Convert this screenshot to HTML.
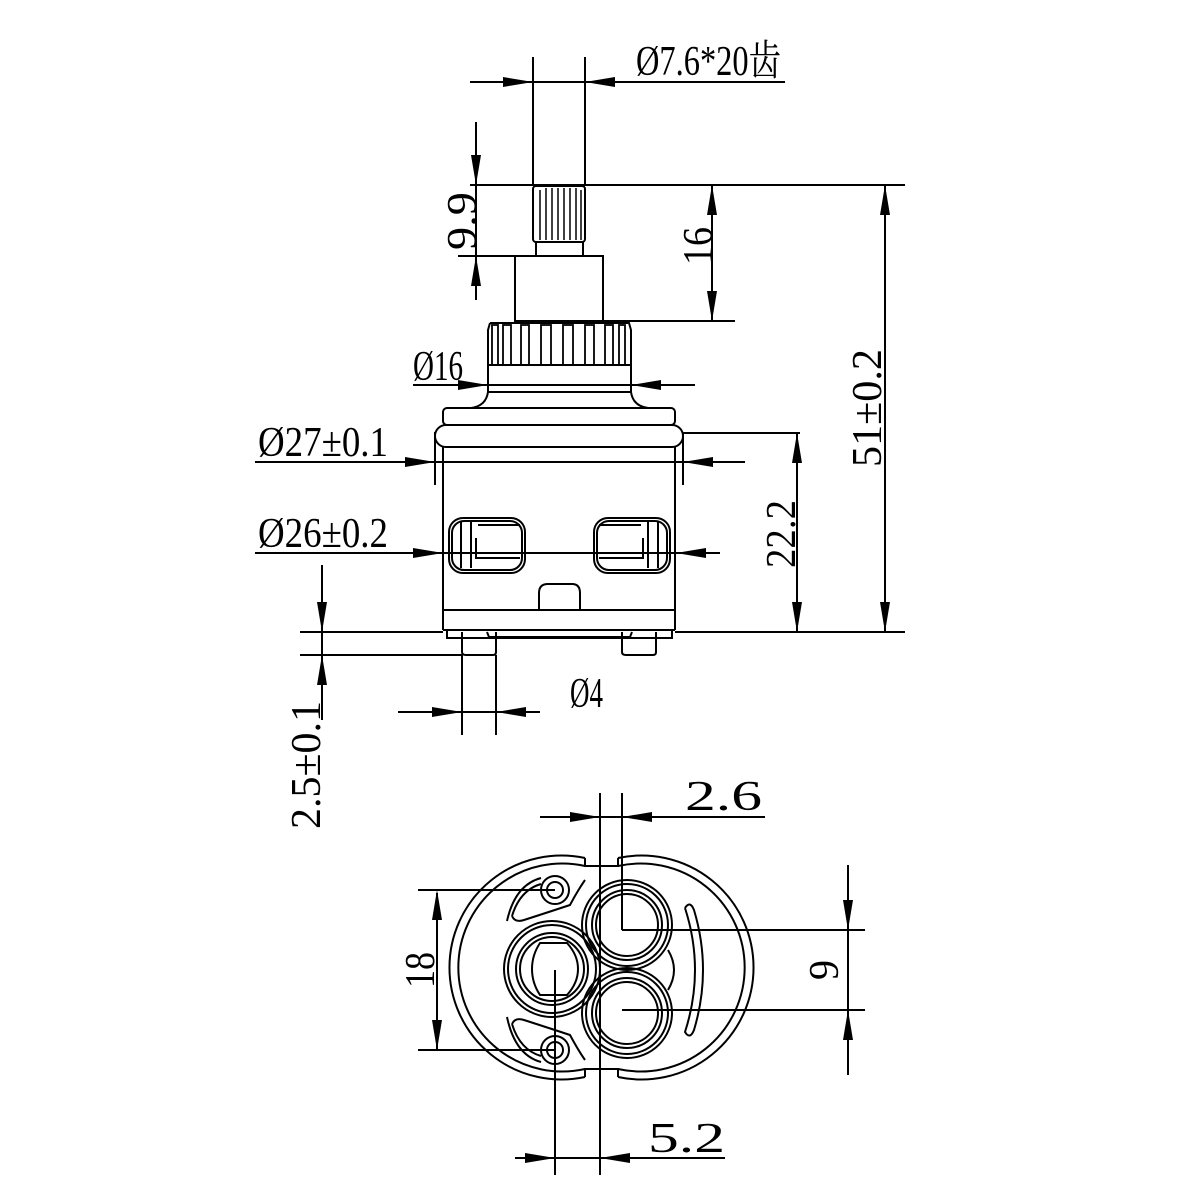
<!DOCTYPE html>
<html><head><meta charset="utf-8"><style>
html,body{margin:0;padding:0;background:#fff;}
svg{display:block;}
text{font-family:"Liberation Serif","Noto Serif CJK SC",serif;font-size:42px;fill:#000;}
</style></head><body>
<svg id="s" width="1200" height="1200" viewBox="0 0 1200 1200" xmlns="http://www.w3.org/2000/svg">
<g id="g" stroke="#000" stroke-width="2" fill="none">
<!-- stem -->
<rect x="533" y="186" width="52" height="56" rx="3"/>
<g stroke-width="1.5">
<line x1="540" y1="190" x2="540" y2="240"/><line x1="546" y1="188" x2="546" y2="240"/><line x1="552" y1="188" x2="552" y2="240"/><line x1="558" y1="188" x2="558" y2="240"/><line x1="564" y1="188" x2="564" y2="240"/><line x1="570" y1="188" x2="570" y2="240"/><line x1="576" y1="188" x2="576" y2="240"/><line x1="581" y1="190" x2="581" y2="240"/>
</g>
<rect x="536" y="242" width="47" height="14"/>
<rect x="515" y="256" width="88" height="65"/>
<!-- gear collar -->
<path d="M490 323 L629 323 L631 330 L631 392 Q633 406 648 408 M488 392 L488 330 L490 323 M488 392 Q486 406 471 408"/>
<line x1="488" y1="365" x2="631" y2="365"/>
<line x1="488" y1="392" x2="631" y2="392"/>
<g stroke-width="1.8">
<rect x="492" y="325" width="6" height="40"/><rect x="503" y="325" width="8" height="40"/><rect x="521" y="325" width="8" height="40"/><rect x="541" y="325" width="10" height="40"/><rect x="563" y="325" width="10" height="40"/><rect x="585" y="325" width="9" height="40"/><rect x="605" y="325" width="8" height="40"/><rect x="619" y="325" width="6" height="40"/>
</g>
<!-- body -->
<rect x="443" y="408" width="232" height="17" rx="4"/>
<rect x="435" y="425" width="248" height="22" rx="11"/>
<line x1="443" y1="447" x2="443" y2="630"/><line x1="675" y1="447" x2="675" y2="630"/>
<line x1="443" y1="610" x2="675" y2="610"/>
<path d="M447 630 L447 638 L672 638 L672 630"/>
<line x1="443" y1="630" x2="675" y2="630"/>
<path d="M487 632 L489 637 L630 637 L632 632"/>
<path d="M462 632 L462 652 Q462 655 466 655 L493 655 Q496 655 496 652 L496 632"/>
<path d="M622 632 L622 652 Q622 655 626 655 L653 655 Q656 655 656 652 L656 632"/>
<!-- windows -->
<rect x="449" y="518" width="76" height="55" rx="14"/>
<rect x="452" y="521" width="70" height="49" rx="12"/>
<path d="M461 522 L461 568 M471 522 L471 568 M476 538 L476 558 L520 558 M478 525 L520 525"/>
<rect x="594" y="518" width="76" height="55" rx="14"/>
<rect x="597" y="521" width="70" height="49" rx="12"/>
<path d="M658 522 L658 568 M648 522 L648 568 M643 538 L643 558 L599 558 M641 525 L599 525"/>
<path d="M539 610 L539 593 Q539 584 548 584 L572 584 Q580 584 580 593 L580 610"/>
<!-- dimension lines -->
<g stroke-width="2">
<line x1="470" y1="82" x2="785" y2="82"/>
<line x1="533" y1="57" x2="533" y2="186"/><line x1="585" y1="57" x2="585" y2="186"/>
<line x1="476" y1="122" x2="476" y2="300"/>
<line x1="470" y1="185" x2="905" y2="185"/>
<line x1="458" y1="256" x2="515" y2="256"/>
<line x1="712" y1="185" x2="712" y2="321"/>
<line x1="603" y1="321" x2="735" y2="321"/>
<line x1="885" y1="185" x2="885" y2="632"/>
<line x1="675" y1="632" x2="905" y2="632"/>
<line x1="300" y1="632" x2="443" y2="632"/>
<line x1="413" y1="385" x2="695" y2="385"/>
<line x1="255" y1="462" x2="745" y2="462"/>
<line x1="435" y1="432" x2="435" y2="485"/><line x1="683" y1="432" x2="683" y2="485"/>
<line x1="255" y1="553" x2="720" y2="553"/>
<line x1="797" y1="433" x2="797" y2="632"/>
<line x1="683" y1="433" x2="800" y2="433"/>
<line x1="322" y1="565" x2="322" y2="720"/>
<line x1="300" y1="655" x2="462" y2="655"/>
<line x1="398" y1="712" x2="540" y2="712"/>
<line x1="462" y1="655" x2="462" y2="735"/><line x1="496" y1="655" x2="496" y2="735"/>
<line x1="600" y1="793" x2="600" y2="1175"/>
<line x1="622" y1="793" x2="622" y2="930"/>
<line x1="540" y1="817" x2="765" y2="817"/>
<line x1="622" y1="930" x2="865" y2="930"/>
<line x1="622" y1="1010" x2="865" y2="1010"/>
<line x1="848" y1="865" x2="848" y2="1075"/>
<line x1="418" y1="890" x2="555" y2="890"/>
<line x1="418" y1="1050" x2="555" y2="1050"/>
<line x1="437" y1="893" x2="437" y2="1050"/>
<line x1="555" y1="970" x2="555" y2="1175"/>
<line x1="515" y1="1158" x2="725" y2="1158"/>
</g>
<!-- bottom view -->
<path d="M585 858 A112 112 0 1 0 585 1077"/>
<path d="M618 858 A112 112 0 1 1 618 1077"/>
<path d="M585 866 A104 104 0 1 0 585 1069"/>
<path d="M618 866 A104 104 0 1 1 618 1069"/>
<path d="M585 858 L585 866 L618 866 L618 858 M585 1077 L585 1069 L618 1069 L618 1077"/>
<circle cx="627" cy="925" r="45"/><circle cx="627" cy="925" r="41"/><circle cx="627" cy="925" r="35"/><circle cx="627" cy="925" r="31"/>
<circle cx="627" cy="1013" r="45"/><circle cx="627" cy="1013" r="41"/><circle cx="627" cy="1013" r="35"/><circle cx="627" cy="1013" r="31"/>
<circle cx="552" cy="969" r="48"/><circle cx="552" cy="969" r="44"/><circle cx="552" cy="969" r="36"/><circle cx="552" cy="969" r="32"/>
<path d="M540 943 L567 943 Q578 955 578 969 Q578 983 567 995 L540 995 Q532 983 532 969 Q532 955 540 943 Z"/>
<circle cx="555" cy="890" r="14"/><circle cx="555" cy="890" r="8"/>
<circle cx="555" cy="1050" r="14"/><circle cx="555" cy="1050" r="8"/>
<path d="M512 916 Q520 890 541 884 M512 916 Q515 923 524 920 Q555 910 570 905 Q578 890 585 880"/>
<path d="M507 921 Q515 885 541 878"/>
<path d="M512 1024 Q520 1050 541 1056 M512 1024 Q515 1017 524 1020 Q555 1030 570 1035 Q578 1050 585 1060"/>
<path d="M507 1017 Q515 1055 541 1062"/>
<path d="M685 908 Q705 970 685 1032 Q690 1040 694 1030 Q712 970 694 910 Q690 900 685 908"/>
<path d="M668 950 Q680 970 668 990"/>
</g>
<g id="arr" fill="#000"></g>
<text x="636" y="75" textLength="145" lengthAdjust="spacingAndGlyphs">Ø7.6*20齿</text>
<text transform="translate(476,221) rotate(-90)" text-anchor="middle" textLength="58" lengthAdjust="spacingAndGlyphs">9.9</text>
<text transform="translate(712,246) rotate(-90)" text-anchor="middle" textLength="38" lengthAdjust="spacingAndGlyphs">16</text>
<text transform="translate(881,408) rotate(-90)" text-anchor="middle" textLength="118" lengthAdjust="spacingAndGlyphs">51±0.2</text>
<text x="413" y="380" textLength="50" lengthAdjust="spacingAndGlyphs">Ø16</text>
<text x="258" y="456" textLength="130" lengthAdjust="spacingAndGlyphs">Ø27±0.1</text>
<text x="258" y="547" textLength="130" lengthAdjust="spacingAndGlyphs">Ø26±0.2</text>
<text transform="translate(795,534) rotate(-90)" text-anchor="middle" textLength="68" lengthAdjust="spacingAndGlyphs">22.2</text>
<text transform="translate(320,765) rotate(-90)" text-anchor="middle" textLength="128" lengthAdjust="spacingAndGlyphs">2.5±0.1</text>
<text x="570" y="707" textLength="33" lengthAdjust="spacingAndGlyphs">Ø4</text>
<text x="685" y="810" textLength="77" lengthAdjust="spacingAndGlyphs">2.6</text>
<text transform="translate(838,970) rotate(-90)" text-anchor="middle" textLength="20" lengthAdjust="spacingAndGlyphs">9</text>
<text transform="translate(434,970) rotate(-90)" text-anchor="middle" textLength="36" lengthAdjust="spacingAndGlyphs">18</text>
<text x="648" y="1152" textLength="77" lengthAdjust="spacingAndGlyphs">5.2</text>
</svg>
<script>
(function(){
var g=document.getElementById('arr'),L=30,W=5,s='';
function a(x,y,dx,dy){var bx=x-dx*L,by=y-dy*L,px=-dy*W,py=dx*W;
s+='<polygon points="'+x+','+y+' '+(bx+px)+','+(by+py)+' '+(bx-px)+','+(by-py)+'"/>';}
a(533,82,1,0);a(585,82,-1,0);
a(476,185,0,1);a(476,256,0,-1);
a(712,185,0,-1);a(712,321,0,1);
a(885,185,0,-1);a(885,632,0,1);
a(488,385,1,0);a(631,385,-1,0);
a(435,462,1,0);a(683,462,-1,0);
a(443,553,1,0);a(676,553,-1,0);
a(797,433,0,-1);a(797,632,0,1);
a(322,632,0,1);a(322,655,0,-1);
a(462,712,1,0);a(496,712,-1,0);
a(600,817,1,0);a(622,817,-1,0);
a(848,930,0,1);a(848,1010,0,-1);
a(437,890,0,-1);a(437,1050,0,1);
a(555,1158,1,0);a(600,1158,-1,0);
g.innerHTML=s;
})();
</script>
</body></html>
